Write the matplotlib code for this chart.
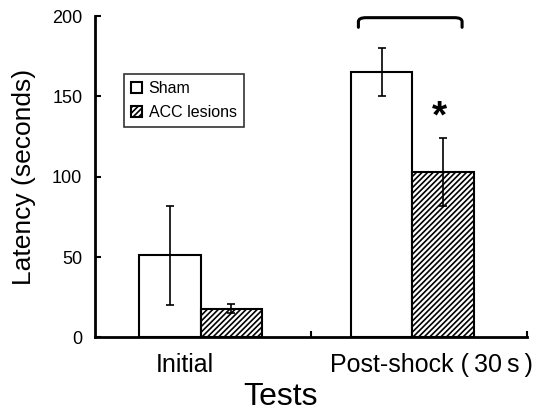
import numpy as np
import matplotlib.pyplot as plt
from matplotlib.path import Path
from matplotlib.patches import PathPatch

# data
groups = ["Initial", "Post-shock (\u200930\u2009s\u2009)"]
sham_mean = [51, 165]
sham_err = [31, 15]
acc_mean = [18, 103]
acc_err = [3, 21]

plt.rcParams['font.family'] = ['Liberation Sans', 'DejaVu Sans']
plt.rcParams['hatch.linewidth'] = 1.2

fig = plt.figure(figsize=(5.36, 4.12), dpi=100)
ax = fig.add_axes([0.177, 0.181, 0.806, 0.780])

centers = np.array([0.49, 1.47])
w = 0.285
ax.bar(centers - w / 2, sham_mean, w, yerr=sham_err, color='white',
       edgecolor='black', linewidth=1.5, label='Sham',
       error_kw=dict(elinewidth=1.2, capsize=3, capthick=1.2))
ax.bar(centers + w / 2, acc_mean, w, yerr=acc_err, color='white',
       edgecolor='black', hatch='//////', linewidth=1.5, label='ACC lesions',
       error_kw=dict(elinewidth=1.2, capsize=3, capthick=1.2))

ax.set_xlim(0, 2)
ax.set_ylim(0, 200)
ax.set_yticks([0, 50, 100, 150, 200])
ax.set_xticks([1, 2])
ax.set_xticklabels([])
ax.tick_params(direction='in', length=4, width=1.5, labelsize=13, pad=9)
for s in ['top', 'right']:
    ax.spines[s].set_visible(False)
for s in ['left', 'bottom']:
    ax.spines[s].set_linewidth(2)

# group names under the axis
label_x = [0.417, 1.556]
for c, g in zip(label_x, groups):
    ax.text(c, -10, g, ha='center', va='top', fontsize=18)

ax.set_ylabel("Latency (seconds)", fontsize=19)
ax.yaxis.set_label_coords(-0.137, 0.5)
fig.text(0.523, 0.0, "Tests", ha='center', va='bottom', fontsize=23)

leg = ax.legend(loc='upper left', bbox_to_anchor=(0.067, 0.82), fontsize=11.5,
                frameon=True, fancybox=False, edgecolor='black',
                handlelength=0.7, handleheight=0.7, handletextpad=0.4,
                borderpad=0.45, labelspacing=0.55, borderaxespad=0)
leg.get_frame().set_linewidth(1.2)

# significance bracket with rounded corners
x0, x1, yt, yb, r = 1.22, 1.70, 199, 193, 0.035
verts = [(x0, yb), (x0, yt - 2.5), (x0, yt), (x0 + r, yt), (x1 - r, yt),
         (x1, yt), (x1, yt - 2.5), (x1, yb)]
codes = [Path.MOVETO, Path.LINETO, Path.CURVE3, Path.CURVE3, Path.LINETO,
         Path.CURVE3, Path.CURVE3, Path.LINETO]
ax.add_patch(PathPatch(Path(verts, codes), fill=False, lw=2.2,
                       edgecolor='black', clip_on=False, capstyle='round'))
ax.text(1.595, 137, "*", ha='center', va='center', fontsize=28,
        fontweight='bold')

fig.savefig("out.png", dpi=100)
